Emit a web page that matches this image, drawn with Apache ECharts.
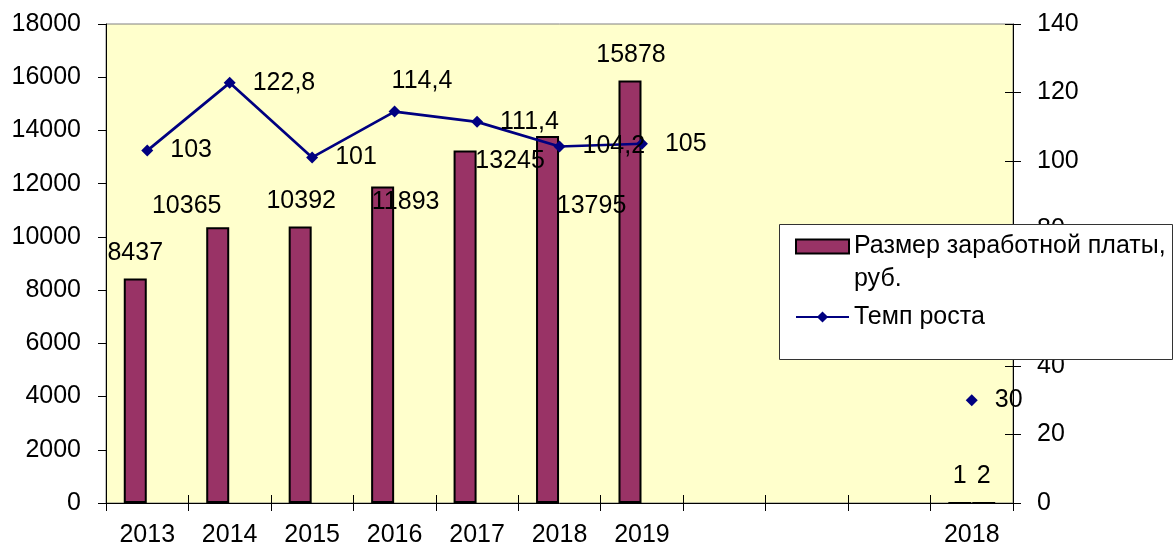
<!DOCTYPE html>
<html><head><meta charset="utf-8">
<script src="https://cdn.jsdelivr.net/npm/echarts@6/dist/echarts.min.js"></script>
<style>html,body{margin:0;padding:0;background:#fff}#c{width:1175px;height:548px}</style>
</head><body><div id="c"></div>
<script>
// ---- data ----
const categories = ['2013','2014','2015','2016','2017','2018','2019','','','','2018'];
const salary = [8437,10365,10392,11893,13245,13795,15878,null,null,null,1];
const extraBar = [null,null,null,null,null,null,null,null,null,null,2];
const growth = [103,122.8,101,114.4,111.4,104.2,105,null,null,null,30];
const leftAxisMin = 0, leftAxisMax = 18000, leftAxisStep = 2000;
const rightAxisMin = 0, rightAxisMax = 140, rightAxisStep = 20;
const salaryName = 'Размер заработной платы, руб.';
const growthName = 'Темп роста';

// ---- label placement (layout only) ----
const salaryLabelShift = [[0,0],[-31,4],[1,0],[23,41],[45,36],[44,96],[1,0],null,null,null,[0,0]];
const growthLabelShift = [null,null,null,[-26,-30],null,null,null,null,null,null,null];

const FONT = 'Liberation Sans, Arial, sans-serif';
const FS = 25;

const chart = echarts.init(document.getElementById('c'), null, {renderer:'canvas'});
const barStyle = {color:'#993366', borderColor:'#000', borderWidth:2};
const barLabel = {show:true, position:'top', distance:13, color:'#000', fontSize:FS, fontFamily:FONT};

chart.setOption({
  animation:false,
  textStyle:{fontFamily:FONT},
  grid:{left:106, right:162, top:24, bottom:45, show:true, backgroundColor:'#FFFFCC', borderColor:'#808080', borderWidth:1},
  graphic:[{type:'rect', z:10, shape:{x:779.5, y:224.5, width:393, height:135}, style:{fill:'#fff', stroke:'#333', lineWidth:1}}],
  legend:[
    {data:[salaryName], z:20, left:795, top:197, padding:0, icon:'rect', itemWidth:53, itemHeight:14,
     formatter:n=>'{s| }\n' + n.replace(', ', ',\n'),
     textStyle:{fontSize:FS, lineHeight:33, color:'#000', fontFamily:FONT,
                rich:{s:{fontSize:FS, lineHeight:33}}}},
    {data:[growthName], z:20, left:795, top:303, padding:0, itemWidth:53, itemHeight:14,
     textStyle:{fontSize:FS, lineHeight:28, color:'#000', fontFamily:FONT}}
  ],
  xAxis:[
    {type:'category', data:categories, position:'bottom',
     axisLine:{show:true, lineStyle:{color:'#000', width:1}},
     axisTick:{show:true, inside:false, length:8, lineStyle:{color:'#000'}},
     axisLabel:{interval:0, fontSize:FS, color:'#000', margin:20, fontFamily:FONT},
     splitLine:{show:false}},
    {type:'category', data:categories, position:'bottom',
     axisLine:{show:false}, axisTick:{show:true, inside:true, length:8, lineStyle:{color:'#000'}},
     axisLabel:{show:false}, splitLine:{show:false}}
  ],
  yAxis:[
    {type:'value', position:'left', min:leftAxisMin, max:leftAxisMax, interval:leftAxisStep,
     axisLine:{show:true, lineStyle:{color:'#000'}},
     axisTick:{show:true, inside:false, length:8, lineStyle:{color:'#000'}},
     axisLabel:{fontSize:FS, color:'#000', margin:25, fontFamily:FONT, formatter:v=>String(v)},
     splitLine:{show:false}},
    {type:'value', position:'right', min:rightAxisMin, max:rightAxisMax, interval:rightAxisStep,
     axisLine:{show:true, lineStyle:{color:'#000'}},
     axisTick:{show:true, inside:false, length:8, lineStyle:{color:'#000'}},
     axisLabel:{fontSize:FS, color:'#000', margin:24, fontFamily:FONT, formatter:v=>String(v)},
     splitLine:{show:false}},
    {type:'value', position:'right', min:rightAxisMin, max:rightAxisMax, interval:rightAxisStep,
     axisLine:{show:false}, axisTick:{show:true, inside:true, length:8, lineStyle:{color:'#000'}},
     axisLabel:{show:false}, splitLine:{show:false}}
  ],
  series:[
    {type:'bar', name:salaryName, xAxisIndex:0, yAxisIndex:0, barWidth:23, barGap:'4%',
     itemStyle:barStyle, label:barLabel,
     data:salary.map((v,i)=> v==null ? null : {value:v, label:{offset:salaryLabelShift[i] || [0,0]}})},
    {type:'bar', name:'extra', xAxisIndex:0, yAxisIndex:0, barWidth:23, barGap:'4%',
     itemStyle:barStyle, label:barLabel, data:extraBar},
    {type:'line', name:growthName, xAxisIndex:0, yAxisIndex:1, symbol:'diamond', symbolSize:12,
     lineStyle:{color:'#000080', width:2.7}, itemStyle:{color:'#000080'},
     label:{show:true, position:'right', distance:17, color:'#000', fontSize:FS, fontFamily:FONT,
            formatter:p=>String(p.value).replace('.', ',')},
     data:growth.map((v,i)=> v==null ? null : {value:v, label:{offset:growthLabelShift[i] || [0,0]}})}
  ]
});
</script>
</body></html>
